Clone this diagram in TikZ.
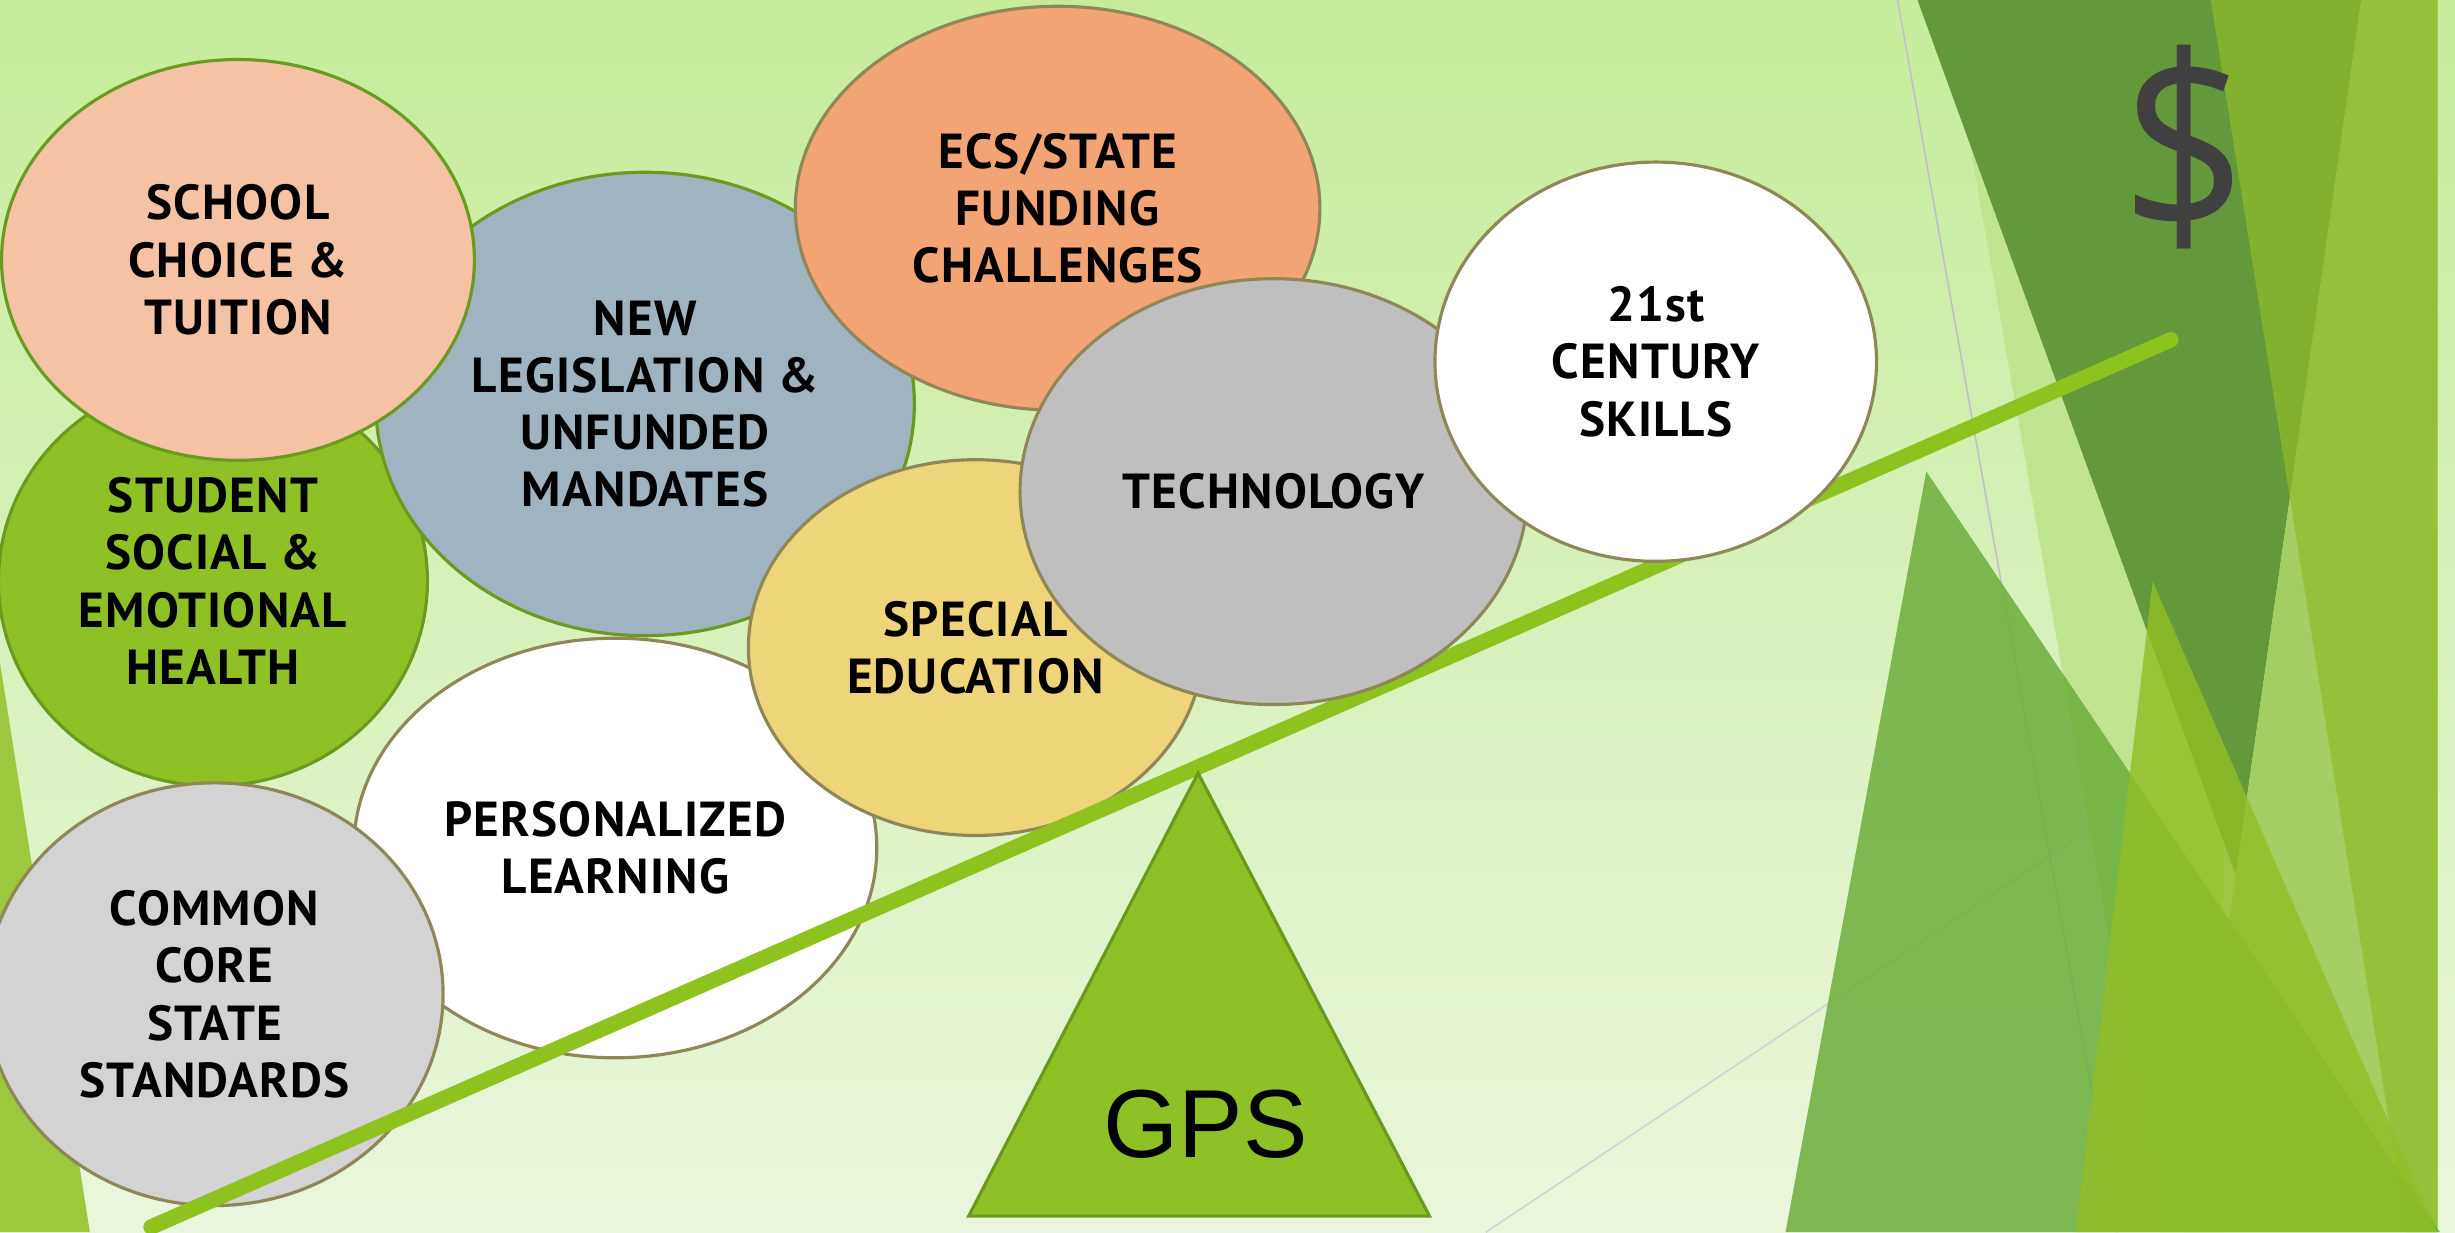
\documentclass[tikz,border=0pt]{standalone}
\usepackage{fontspec}
\usetikzlibrary{shapes.geometric}
\newfontfamily\lblfont[LetterSpace=2.5]{PT Sans}
\newfontfamily\gpsfont{Liberation Sans}
\newfontfamily\dolfont{Open Sans}
\definecolor{bgtop}{HTML}{C6EC9A}
\definecolor{bgbot}{HTML}{EAF6DC}
\definecolor{grnbd}{HTML}{6B9A20}
\definecolor{khaki}{HTML}{8F8757}
\definecolor{cStudent}{HTML}{8FC126}
\definecolor{cLeg}{HTML}{9FB4C0}
\definecolor{cSchool}{HTML}{F5C3A4}
\definecolor{cEcs}{HTML}{F2A474}
\definecolor{cTech}{HTML}{BFBFBF}
\definecolor{cCore}{HTML}{D3D3D3}
\definecolor{cSpec}{HTML}{EFD57A}
\definecolor{cLever}{HTML}{8DC21F}
\definecolor{cTri}{HTML}{8FC126}
\definecolor{cTriBd}{HTML}{6A9A1C}
\definecolor{cDark}{HTML}{63993A}
\definecolor{cX}{HTML}{C1E490}
\definecolor{cQ}{HTML}{A4CD64}
\definecolor{cR}{RGB}{145,188,40}
\definecolor{cT1}{HTML}{6CAE3C}
\definecolor{cT2}{RGB}{146,190,39}
\definecolor{cStrip}{HTML}{9DC83E}
\definecolor{cG1}{HTML}{C4BECC}
\definecolor{cG2}{HTML}{CFD2D6}
\definecolor{cDollar}{HTML}{404040}
\begin{document}
\begin{tikzpicture}[x=0.015657cm,y=-0.015657cm,
  bub/.style={ellipse, inner sep=0pt, line width=0.9pt, align=center,
    font=\lblfont\bfseries\fontsize{14}{16.3}\selectfont, text=black},
  gb/.style={bub, draw=grnbd},
  kb/.style={bub, draw=khaki},
  sz/.style 2 args={minimum width={#1*0.015657cm}, minimum height={#2*0.015657cm}},
  lever/.style={line width=4.4pt, draw=cLever, line cap=round},
  gpstri/.style={fill=cTri, draw=cTriBd, line width=0.9pt, line join=miter},
  thin1/.style={draw=cG1, line width=0.45pt},
  thin2/.style={draw=cG2, line width=0.45pt}]
\useasboundingbox (0,0) rectangle (1568,787);
\clip (0,0) rectangle (1568,787);
% background
\shade[top color=bgtop, bottom color=bgbot] (0,0) rectangle (1568,787);
% thin lines
\draw[thin1] (1212,0) -- (1352,787);
\draw[thin2] (949,787) -- (1479.8,432.5);
% facet shapes
\fill[cX] (1242,0) -- (1420,0) -- (1420,787) -- (1380,787) -- cycle;
\fill[cDark] (1224.7,0) -- (1508.1,0) -- (1428,559) -- cycle;
\fill[cQ] (1508.1,0) -- (1556.9,0) -- (1556.9,787) -- (1395.3,787) -- cycle;
\fill[cR, fill opacity=0.714] (1412,0) -- (1556.9,0) -- (1556.9,787) -- (1537.1,787) -- cycle;
\fill[cT1, fill opacity=0.85] (1230.3,301.1) -- (1140.4,787) -- (1558.4,787) -- cycle;
\fill[cT2, fill opacity=0.83] (1374.9,371.4) -- (1325.7,787) -- (1556.3,787) -- cycle;
\fill[cStrip] (0,423.3) -- (57.4,787) -- (0,787) -- cycle;
% dollar
\node[font=\dolfont\fontsize{71}{71}\selectfont, text=cDollar, inner sep=0pt] (dollar) at (1394.8,94) {\scalebox{0.88}[1]{\$}};
% bubbles
\node[gb, sz={274}{262}, fill=cStudent] (student) at (136,371) {STUDENT\\SOCIAL \&\\EMOTIONAL\\HEALTH};
\node[gb, sz={344}{296}, fill=cLeg] (legis) at (412,258) {NEW\\LEGISLATION \&\\UNFUNDED\\MANDATES};
\node[gb, sz={302}{256}, fill=cSchool] (school) at (152,166) {SCHOOL\\CHOICE \&\\TUITION};
\node[kb, sz={335}{258}, fill=cEcs] (ecs) at (675.5,133) {ECS/STATE\\FUNDING\\CHALLENGES};
\node[kb, sz={334}{268}, fill=white] (pers) at (393,541.6) {PERSONALIZED\\LEARNING};
\node[kb, sz={292}{270}, fill=cCore] (core) at (137,635) {COMMON\\CORE\\STATE\\STANDARDS};
\node[kb, sz={290}{240}, fill=cSpec] (spec) at (623,413.6) {SPECIAL\\EDUCATION};
% lever
\coordinate (lvA) at (96.5,783.7);
\coordinate (lvB) at (1386.5,217);
\draw[lever] (lvA) -- (lvB);
\node[kb, sz={324}{272}, fill=cTech] (tech) at (813.5,314) {TECHNOLOGY};
\node[kb, sz={282}{255}, fill=white] (skills) at (1057.5,231) {21st\\CENTURY\\SKILLS};
% fulcrum
\draw[gpstri] (765.2,493.8) -- (618.7,776.7) -- (913,776.7) -- cycle;
\node[font=\gpsfont\fontsize{27.5}{30}\selectfont, text=black, inner sep=0pt] (gps) at (770,718) {GPS};
\end{tikzpicture}
\end{document}
